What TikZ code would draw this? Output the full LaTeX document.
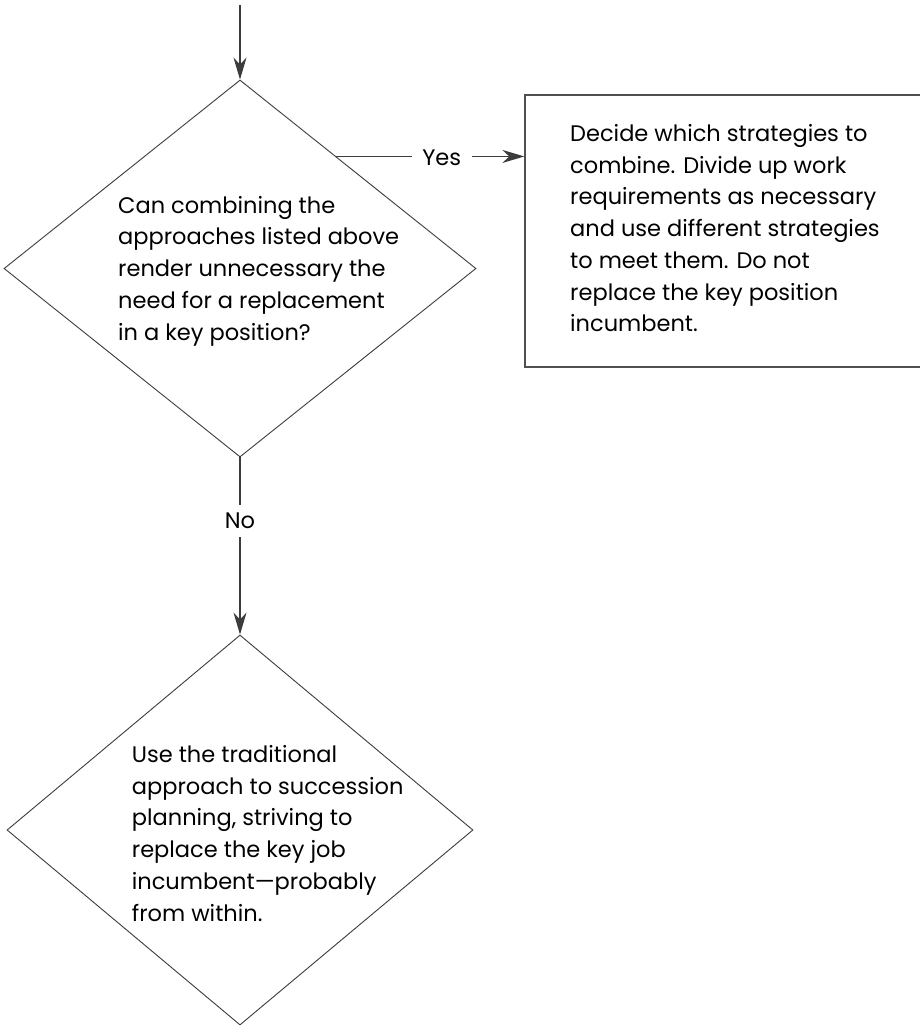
\documentclass[tikz,border=0pt]{standalone}
\usepackage{fontspec}
\setmainfont{Poppins}
\usetikzlibrary{shapes.geometric,arrows.meta,calc}
\definecolor{inkline}{HTML}{3C3C3C}
\definecolor{boxline}{HTML}{505050}
\begin{document}
\begin{tikzpicture}[x=1pt,y=-1pt,
  decision/.style={draw=inkline, line width=0.9pt, shape=diamond, inner sep=0pt},
  outcome/.style={draw=boxline, line width=1.3pt, rectangle, inner sep=0pt},
  body/.style={inner sep=0pt, align=left, anchor=base west, text=black,
    font=\fontsize{22.5}{31.7}\selectfont},
  tag/.style={inner sep=0pt, text=black, font=\fontsize{22.5}{31.7}\selectfont},
  flow/.style={draw=inkline, line width=1.2pt, -{Stealth[length=22pt,width=13pt,inset=7pt]}},
  link/.style={draw=inkline, line width=1.2pt}]
\useasboundingbox (0,0) rectangle (920,1027);
\fill[white] (0,0) rectangle (920,1027);

% decision shapes and the outcome box
\node[decision, minimum width=472pt, minimum height=377pt] (q1) at (240,268.5) {};
\node[decision, minimum width=466pt, minimum height=390pt] (q2) at (240,830) {};
\node[outcome, minimum width=397pt, minimum height=272pt] (act) at (723.5,231) {};

% texts
\node[body] (q1text) at (118,340) {Can combining the\\approaches listed above\\render unnecessary the\\need for a replacement\\in a key position?};
\node[body] (acttext) at (570,331.7) {Decide which strategies to\\combine. Divide up work\\requirements as necessary\\and use different strategies\\to meet them. Do not\\replace the key position\\incumbent.};
\node[body] (q2text) at (131.7,921) {Use the traditional\\approach to succession\\planning, striving to\\replace the key job\\incumbent---probably\\from within.};

% connectors
\coordinate (entry) at (240,5);
\draw[flow] (entry) -- (q1.north);

\coordinate (yesstart) at ($(q1.north)!0.407!(q1.east)$);
\node[tag, minimum width=60pt, minimum height=20pt] (yes) at (441.7,157.7) {Yes};
\draw[link] (yesstart) -- (yes.west |- yesstart);
\draw[flow] (yes.east |- yesstart) -- (act.west |- yesstart);

\node[tag, minimum width=20pt, minimum height=32pt] (no) at (240,521) {No};
\draw[link] (q1.south) -- (no.north);
\draw[flow] (no.south) -- (q2.north);
\end{tikzpicture}
\end{document}
